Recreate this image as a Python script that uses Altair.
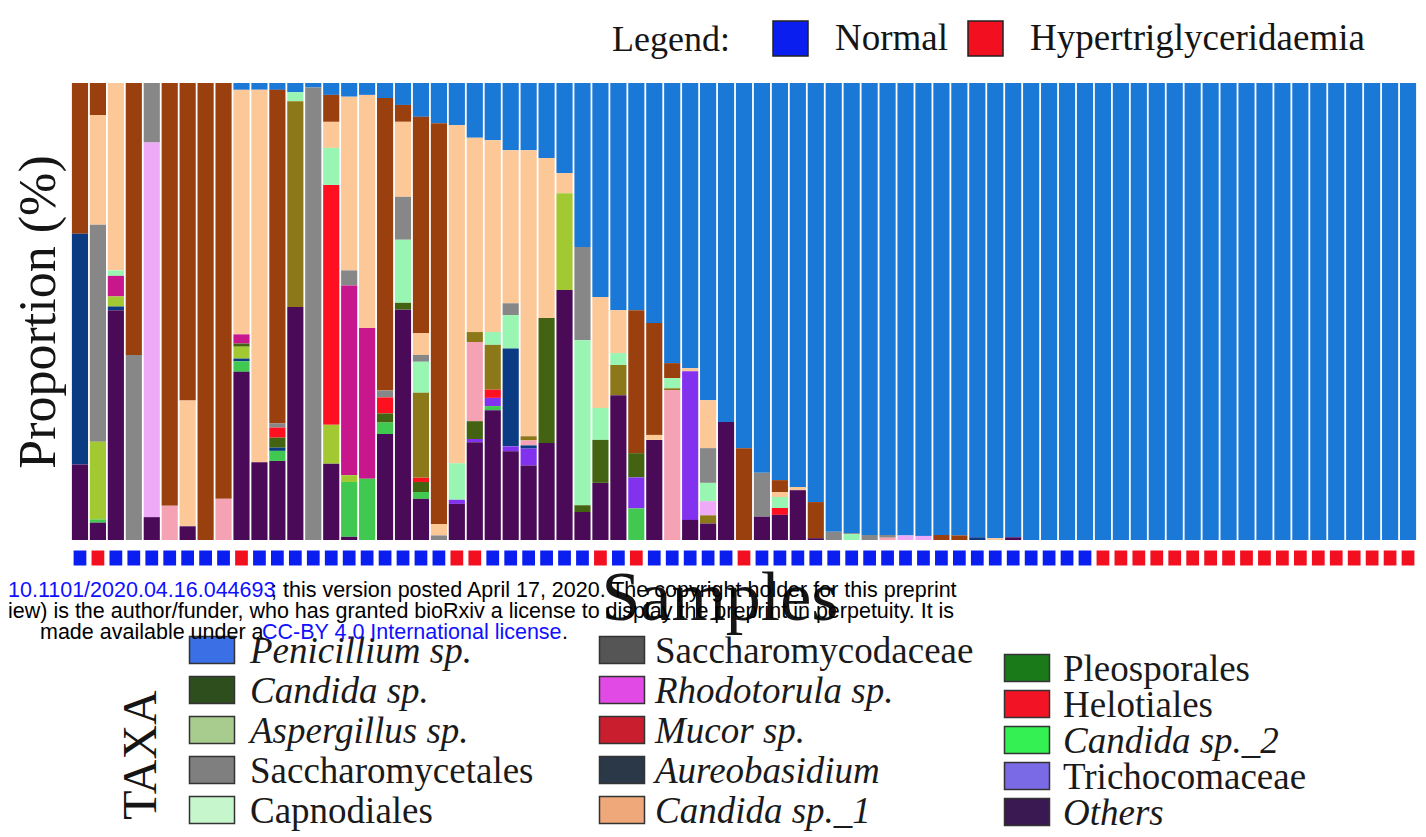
import altair as alt
import pandas as pd

SERIF = "Liberation Serif, Times New Roman, serif"
SANS = "Liberation Sans, Arial, Helvetica, sans-serif"

# ---------------- data ----------------
sample_ids = [f"S{i:02d}" for i in range(1, 76)]

group_codes = ["N", "H", "N", "N", "N", "N", "N", "N", "N", "H",
               "N", "N", "N", "N", "N", "N", "N", "N", "N", "N",
               "N", "H", "H", "N", "N", "N", "N", "N", "N", "H",
               "N", "H", "N", "N", "N", "N", "N", "H", "N", "N",
               "N", "N", "N", "N", "N", "N", "N", "N", "N", "N",
               "N", "N", "N", "N", "N", "N", "N", "H", "H", "H",
               "H", "H", "H", "H", "H", "H", "H", "H", "H", "H",
               "H", "H", "H", "H", "H"]
group_names = {"N": "Normal", "H": "Hypertriglyceridaemia"}

penicillium = [0, 0, 0, 0, 0, 0, 0, 0, 0, 1.5,
               1.5, 1.5, 2, 1, 2.6, 3, 2.6, 3.3, 4.8, 7.4,
               8.8, 9.2, 12, 12.5, 14.7, 14.7, 16.4, 19.7, 35.9, 46.8,
               49.7, 49.7, 52.5, 61.3, 62.4, 69.4, 74.2, 79.9, 85.3, 86.9,
               88.4, 91.7, 98.2, 98.5, 98.9, 98.9, 99, 99.1, 98.9, 99,
               99.4, 99.6, 99.4, 100, 100, 100, 100, 100, 100, 100,
               100, 100, 100, 100, 100, 100, 100, 100, 100, 100,
               100, 100, 100, 100, 100]

# sparse series: {sample index (0-based): proportion %}
unlisted_brown = {0: 33, 1: 7, 3: 59.5, 5: 92.5, 6: 69.5, 7: 100, 8: 91, 11: 73, 14: 5.9,
                  17: 64, 18: 3.7, 19: 47.3, 20: 87.7, 31: 31.3, 32: 24.5, 33: 3.3,
                  37: 20.1, 39: 2.6, 41: 7.9, 48: 1.1, 49: 1}
candida_sp_1 = {1: 24, 2: 41, 6: 27.5, 9: 53.5, 10: 81.5, 14: 5.7, 15: 38, 16: 51, 18: 16.4,
                19: 4.8, 20: 2.5, 21: 74, 22: 42.5, 23: 42, 24: 33.5, 25: 62.6, 26: 35,
                27: 4.4, 29: 24.3, 30: 9.4, 32: 1.1, 34: 0.7, 35: 10.5, 39: 1.1, 40: 0.7,
                51: 0.4}
saccharomycetales = {1: 47.5, 3: 40.5, 4: 13, 11: 0.9, 13: 99, 15: 3.3, 17: 1.5, 18: 9.4,
                     19: 1.5, 20: 1, 24: 2.6, 28: 20.4, 35: 7.6, 38: 9.6, 42: 1.8,
                     43: 0.2, 44: 1.1, 45: 0.6}
capnodiales = {2: 1.2, 12: 2, 14: 8.1, 18: 13.8, 19: 6.8, 21: 8, 23: 2.8, 24: 7.3, 28: 36.1,
               29: 7, 30: 2.6, 33: 2.2, 35: 4, 39: 2.4, 43: 1.3}
unlisted_lilac = {4: 82, 35: 3.1, 46: 1, 47: 0.9}
unlisted_olive = {12: 45, 19: 18.6, 22: 2.2, 23: 9.8, 25: 0.9, 30: 6.6, 33: 0.4, 35: 1.8}
unlisted_pink = {5: 7.5, 8: 9, 22: 17.3, 25: 1.1, 33: 32.8, 45: 0.5}
helotiales = {11: 2.2, 14: 52.5, 17: 3.5, 19: 0.9, 23: 1.8, 39: 1.5}
rhodotorula = {2: 4.5, 9: 2, 15: 41.5, 16: 33}
candida_sp = {9: 0.7, 11: 2.2, 17: 2, 18: 1.5, 19: 2.2, 22: 3.9, 26: 27.4, 28: 1.5, 29: 9.4,
              31: 5.3}
aspergillus = {1: 17, 2: 2.2, 9: 2.6, 14: 8.5, 15: 1.5, 27: 21.2}
aureobasidium = {0: 50.5, 2: 0.8, 9: 0.6, 11: 0.7, 24: 21.4, 25: 0.7, 50: 0.6}
trichocomaceae = {21: 0.9, 22: 0.7, 23: 1.8, 24: 1.1, 25: 3.7, 31: 6.8, 34: 32.5}
candida_sp_2 = {1: 0.7, 9: 2.3, 11: 2.2, 15: 12, 16: 13.4, 17: 2.5, 19: 1.5, 23: 0.9, 31: 6.9}
others = {0: 16.5, 1: 3.8, 2: 50.3, 4: 5, 6: 3, 9: 36.8, 10: 17, 11: 17.3, 12: 51, 14: 16.7,
          15: 0.7, 17: 23.2, 18: 50.4, 19: 9, 21: 7.9, 22: 21.4, 23: 28.4, 24: 19.4,
          25: 16.3, 26: 21.2, 27: 54.7, 28: 6.1, 29: 12.5, 30: 31.7, 32: 21.9, 34: 4.4,
          35: 3.6, 36: 25.8, 38: 5.1, 39: 5.5, 40: 10.9, 41: 0.4, 52: 0.6}

# taxa in stacking order, top of bar first
stack_taxa = ["Penicillium sp.", "Unlisted (brown)", "Candida sp._1", "Saccharomycetales",
              "Capnodiales", "Unlisted (lilac)", "Unlisted (olive)", "Unlisted (pink)",
              "Helotiales", "Rhodotorula sp.", "Candida sp.", "Aspergillus sp.",
              "Aureobasidium", "Trichocomaceae", "Candida sp._2", "Others"]
stack_series = [dict(enumerate(penicillium)), unlisted_brown, candida_sp_1, saccharomycetales,
                capnodiales, unlisted_lilac, unlisted_olive, unlisted_pink, helotiales,
                rhodotorula, candida_sp, aspergillus, aureobasidium, trichocomaceae,
                candida_sp_2, others]
bar_colors = ["#1a78d6", "#9a400e", "#fdc898", "#878787", "#98f5b2", "#eeaaf6", "#8c7818",
              "#f5a3b4", "#ff1020", "#c8168c", "#436312", "#a2c832", "#0b3b82", "#8232ee",
              "#40c850", "#4a0a58"]

group_domain = ["Normal", "Hypertriglyceridaemia"]
group_colors = ["#0a1ef0", "#f21020"]

legend_taxa = ["Penicillium sp.", "Candida sp.", "Aspergillus sp.", "Saccharomycetales",
               "Capnodiales", "Saccharomycodaceae", "Rhodotorula sp.", "Mucor sp.",
               "Aureobasidium", "Candida sp._1", "Pleosporales", "Helotiales",
               "Candida sp._2", "Trichocomaceae", "Others"]
legend_swatch = ["#3b6fe6", "#2e4e1e", "#a8cc8e", "#7f7f7f", "#c6f7cc",
                 "#555555", "#e24ae6", "#c81e2e", "#2b3848", "#efa87a",
                 "#1a7a1a", "#f21424", "#34f052", "#7a6ae6", "#3a1852"]
legend_italic = [True, True, True, False, False,
                 False, True, True, True, True,
                 False, False, True, False, True]

# ---------------- tables ----------------
rows = []
n_taxa = len(stack_taxa)
for pos, (taxon, series) in enumerate(zip(stack_taxa, stack_series)):
    for idx, val in series.items():
        if val > 0:
            rows.append({"sample": sample_ids[idx], "taxon": taxon, "value": val,
                         "rank": n_taxa - 1 - pos})
bar_df = pd.DataFrame(rows)
group_df = pd.DataFrame({"sample": sample_ids,
                         "group": [group_names[g] for g in group_codes]})

# ---------------- layout ----------------
W = 1346
H_BARS = 457
H_MARK = 18
H_LEG = 250
SPACING = 9
X0 = 71            # page x of plot origin
Y_LEG0 = 576       # page y of bottom panel top

def px(x):
    return x - X0

def py(y):
    return y - Y_LEG0

band = dict(paddingInner=0.1, paddingOuter=0.05)

bars = alt.Chart(bar_df).mark_bar().encode(
    x=alt.X("sample:N", sort=sample_ids, axis=None, scale=alt.Scale(**band)),
    y=alt.Y("value:Q", stack="zero",
            scale=alt.Scale(domain=[0, 100], nice=False),
            axis=alt.Axis(title="Proportion (%)", labels=False, ticks=False, domain=False,
                          grid=False, titleFont=SERIF, titleFontSize=52,
                          titleFontWeight="normal", titleColor="#151515", titlePadding=6)),
    color=alt.Color("taxon:N", scale=alt.Scale(domain=stack_taxa, range=bar_colors),
                    legend=None),
    order=alt.Order("rank:Q", sort="ascending"),
).properties(width=W, height=H_BARS)

markers = alt.Chart(group_df).mark_point(
    shape="M-0.85,-1L0.85,-1L0.85,1L-0.85,1Z", filled=True, size=225, opacity=1
).encode(
    x=alt.X("sample:N", sort=sample_ids, axis=None, scale=alt.Scale(**band)),
    color=alt.Color("group:N", scale=alt.Scale(domain=group_domain, range=group_colors),
                    legend=alt.Legend(
                        title="Legend:", orient="none", legendX=541,
                        legendY=-(H_BARS + SPACING) - 63,
                        direction="horizontal", titleOrient="left",
                        titleFont=SERIF, titleFontSize=36, titleFontWeight="normal",
                        titleColor="#151515", titlePadding=42,
                        labelFont=SERIF, labelFontSize=37, labelColor="#151515",
                        labelLimit=1000,
                        symbolType="square", symbolSize=1225, symbolOpacity=1,
                        symbolStrokeColor="#222222", symbolStrokeWidth=1.5,
                        labelOffset=26, columnPadding=16)),
).properties(width=W, height=H_MARK)

# bottom panel: axis title "Samples", TAXA legend, preprint notice
sw_x = [212, 622, 1027]
tx_x = [250, 655, 1063]
col_y0 = [650, 650, 668]
col_dy = [40, 40, 36]
leg_rows = []
for k, (name, col, it) in enumerate(zip(legend_taxa, legend_swatch, legend_italic)):
    c, r = divmod(k, 5)
    yy = col_y0[c] + col_dy[c] * r
    leg_rows.append({"name": name, "sx": px(sw_x[c]), "tx": px(tx_x[c]),
                     "y": py(yy), "italic": it})
leg_df = pd.DataFrame(leg_rows)

xs = alt.Scale(domain=[0, W], nice=False, zero=False)
ys = alt.Scale(domain=[0, H_LEG], nice=False, zero=False, reverse=True)

swatches = alt.Chart(leg_df).mark_point(
    shape="M-1,-0.6L1,-0.6L1,0.6L-1,0.6Z", filled=True, size=2025, opacity=1,
    stroke="#333333", strokeWidth=1.5
).encode(
    x=alt.X("sx:Q", scale=xs, axis=None),
    y=alt.Y("y:Q", scale=ys, axis=None),
    color=alt.Color("name:N", scale=alt.Scale(domain=legend_taxa, range=legend_swatch),
                    legend=None),
)
lab_it = alt.Chart(leg_df).transform_filter("datum.italic").mark_text(
    align="left", baseline="middle", font=SERIF, fontSize=37, fontStyle="italic",
    color="#1a1a1a", dy=2
).encode(x=alt.X("tx:Q", scale=xs, axis=None), y=alt.Y("y:Q", scale=ys, axis=None),
         text="name:N")
lab_rm = alt.Chart(leg_df).transform_filter("!datum.italic").mark_text(
    align="left", baseline="middle", font=SERIF, fontSize=37, fontStyle="normal",
    color="#1a1a1a", dy=2
).encode(x=alt.X("tx:Q", scale=xs, axis=None), y=alt.Y("y:Q", scale=ys, axis=None),
         text="name:N")

title_df = pd.DataFrame([{"x": px(720), "y": py(620), "t": "Samples"}])
samples_title = alt.Chart(title_df).mark_text(
    align="center", baseline="alphabetic", font=SERIF, fontSize=70, color="#151515"
).encode(x=alt.X("x:Q", scale=xs, axis=None), y=alt.Y("y:Q", scale=ys, axis=None), text="t:N")

taxa_df = pd.DataFrame([{"x": px(142), "y": py(755), "t": "TAXA"}])
taxa_title = alt.Chart(taxa_df).mark_text(
    align="center", baseline="middle", font=SERIF, fontSize=48, angle=270, color="#151515"
).encode(x=alt.X("x:Q", scale=xs, axis=None), y=alt.Y("y:Q", scale=ys, axis=None), text="t:N")

notice_blue = pd.DataFrame([
    {"x": px(8), "y": py(597), "t": "10.1101/2020.04.16.044693"},
    {"x": px(262), "y": py(639), "t": "CC-BY 4.0 International license"},
])
notice_black = pd.DataFrame([
    {"x": px(271), "y": py(597),
     "t": "; this version posted April 17, 2020. The copyright holder for this preprint"},
    {"x": px(8), "y": py(618),
     "t": "iew) is the author/funder, who has granted bioRxiv a license to display the preprint in perpetuity. It is"},
    {"x": px(40), "y": py(639), "t": "made available under a"},
    {"x": px(562), "y": py(639), "t": "."},
])
nb = alt.Chart(notice_blue).mark_text(
    align="left", baseline="alphabetic", font=SANS, fontSize=21.5, color="#1010ff"
).encode(x=alt.X("x:Q", scale=xs, axis=None), y=alt.Y("y:Q", scale=ys, axis=None), text="t:N")
nk = alt.Chart(notice_black).mark_text(
    align="left", baseline="alphabetic", font=SANS, fontSize=21.5, color="#000000"
).encode(x=alt.X("x:Q", scale=xs, axis=None), y=alt.Y("y:Q", scale=ys, axis=None), text="t:N")

bottom = alt.layer(swatches, lab_it, lab_rm, samples_title, taxa_title, nb, nk).properties(
    width=W, height=H_LEG)

chart = alt.vconcat(bars, markers, bottom, spacing=SPACING, bounds="flush").resolve_scale(
    color="independent", x="independent", y="independent"
).properties(
    padding={"left": 0, "top": 12, "right": 0, "bottom": 0}
).configure(
    background="white",
    view=alt.ViewConfig(stroke="transparent", strokeWidth=0),
)

chart.save("out.html", embed_options={"renderer": "svg", "actions": False})
